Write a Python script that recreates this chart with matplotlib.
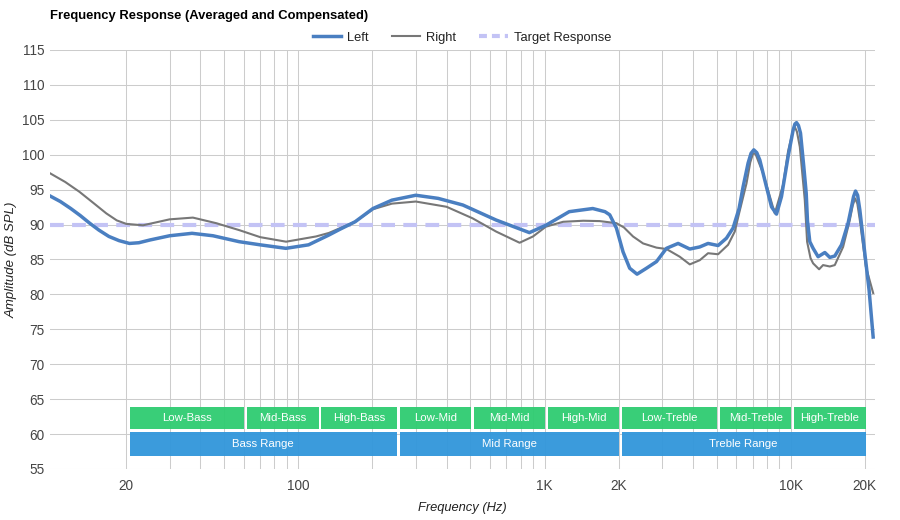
import matplotlib
matplotlib.use("Agg")
import matplotlib.pyplot as plt
from matplotlib.ticker import FixedLocator, NullFormatter
from matplotlib.lines import Line2D

plt.rcParams['font.family'] = ['Liberation Sans', 'DejaVu Sans']

# ---------------- data ----------------
left_freq = [9.8, 10.8, 11.9, 13, 14.2, 15.5, 17, 18.7, 20.6, 22.5, 25, 30, 37, 45, 57.5, 70, 89,
             110, 133, 147, 170, 201, 240, 300, 370, 466, 636, 868, 1013, 1260, 1570, 1760, 1840,
             1959, 2084, 2218, 2376, 2595, 2850, 3129, 3488, 3891, 4272, 4616, 5070, 5483, 5832,
             6170, 6406, 6713, 6900, 7080, 7280, 7490, 7972, 8355, 8757, 9172, 9756, 10224, 10400,
             10558, 10750, 10960, 11302, 11560, 11700, 11956, 12332, 12922, 13760, 14416, 15104,
             16084, 17104, 17664, 18000, 18336, 18700, 19088, 20000, 20820, 21624]
left_db = [94.1, 93.3, 92.3, 91.3, 90.2, 89.2, 88.3, 87.7, 87.3, 87.4, 87.8, 88.4, 88.75, 88.4,
           87.55, 87.1, 86.6, 87.1, 88.5, 89.3, 90.4, 92.3, 93.5, 94.2, 93.75, 92.8, 90.65, 88.85,
           89.9, 91.85, 92.3, 91.85, 91.4, 89.5, 86.1, 83.75, 82.9, 83.75, 84.7, 86.6, 87.3, 86.5,
           86.8, 87.3, 87.0, 88.05, 89.5, 92.3, 95.4, 98.8, 100.2, 100.7, 100.3, 99.25, 95.4, 92.55,
           91.5, 94.0, 99.7, 103.5, 104.4, 104.6, 104.2, 103.1, 98.3, 94.5, 90.5, 87.55, 86.6, 85.4,
           86.0, 85.3, 85.5, 87.1, 90.2, 92.55, 94.0, 94.8, 94.2, 92.1, 85.9, 80.6, 73.9]

right_freq = [9.8, 11.3, 12.9, 14.7, 16.6, 18.3, 20, 23.4, 30, 37.3, 46.4, 57.6, 70, 89.2, 118, 133,
              170, 201, 240, 300, 400, 510, 636, 792, 898, 1013, 1190, 1436, 1676, 1959, 2100,
              2288, 2514, 2850, 3129, 3542, 3891, 4272, 4616, 5070, 5566, 5926, 6170, 6614, 6850,
              7034, 7200, 7400, 7724, 8618, 9312, 9756, 10224, 10390, 10600, 10888, 11408, 11658,
              12036, 12332, 13042, 13538, 14416, 15104, 16326, 17380, 17850, 18266, 18650, 19088,
              20190, 21624]
right_db = [97.35, 96.1, 94.7, 93.1, 91.6, 90.6, 90.1, 89.9, 90.75, 91.0, 90.2, 89.2, 88.2, 87.55,
            88.3, 88.8, 90.4, 92.2, 93.0, 93.3, 92.55, 90.9, 89.0, 87.4, 88.3, 89.7, 90.4, 90.55,
            90.5, 90.2, 89.6, 88.3, 87.3, 86.7, 86.5, 85.4, 84.3, 84.9, 85.9, 85.75, 87.1, 89.0,
            91.6, 95.9, 98.9, 100.2, 100.1, 99.0, 97.35, 91.6, 95.7, 100.5, 103.5, 104.0, 103.3,
            101.15, 93.5, 87.55, 85.2, 84.45, 83.6, 84.2, 84.0, 84.2, 86.8, 90.65, 92.7, 93.75,
            93.0, 90.65, 84.0, 80.2]

target_freq = [9.8, 22000]
target_db = [90, 90]

band_names = ['Low-Bass', 'Mid-Bass', 'High-Bass', 'Low-Mid', 'Mid-Mid', 'High-Mid',
              'Low-Treble', 'Mid-Treble', 'High-Treble']
band_edges = [20, 60, 120, 250, 500, 1000, 2000, 5000, 10000, 20000]
range_names = ['Bass Range', 'Mid Range', 'Treble Range']
range_edges = [20, 250, 2000, 20000]

x_tick_vals = [20, 100, 1000, 2000, 10000, 20000]
x_tick_labels = ['20', '100', '1K', '2K', '10K', '20K']
y_ticks = list(range(55, 116, 5))

# ---------------- figure ----------------
fig = plt.figure(figsize=(9, 5.2), dpi=100)
ax = fig.add_axes([50/900, 51/520, 825/900, 419/520])
ax.set_xscale('log')
ax.set_xlim(9.8, 22000)
ax.set_ylim(55, 115)

grid_c = '#cccccc'
minor = [m * d for d in (10, 100, 1000, 10000) for m in range(1, 10)]
minor = [v for v in minor if 20 <= v <= 20000]
for v in minor:
    ax.axvline(v, color=grid_c, lw=0.75, zorder=0)
for v in y_ticks:
    ax.axhline(v, color=grid_c, lw=0.75, zorder=0)

ax.xaxis.set_major_locator(FixedLocator(x_tick_vals))
ax.set_xticklabels(x_tick_labels)
ax.xaxis.set_minor_locator(FixedLocator([]))
ax.xaxis.set_minor_formatter(NullFormatter())
ax.set_yticks(y_ticks)
ax.tick_params(axis='both', length=0, labelsize=9.8, colors='#444444')
ax.tick_params(axis='x', pad=7)
ax.tick_params(axis='y', pad=4)
for s in ax.spines.values():
    s.set_visible(False)

# bands
gap_lo = 10 ** (3.3 / 246.0)
gap_hi = 10 ** (0.7 / 246.0)
green = '#2ecc71'
blue = '#3498db'
for i, name in enumerate(band_names):
    lo = band_edges[i] * gap_lo
    hi = band_edges[i + 1] * gap_hi
    ax.bar(lo, 3.2, width=hi - lo, bottom=60.73, align='edge', color=green, alpha=0.95,
           lw=0, zorder=2)
    ax.text((lo * hi) ** 0.5, 62.33, name, ha='center', va='center', color='white',
            fontsize=8.2, zorder=3)
for i, name in enumerate(range_names):
    lo = range_edges[i] * gap_lo
    hi = range_edges[i + 1] * gap_hi
    ax.bar(lo, 3.4, width=hi - lo, bottom=56.9, align='edge', color=blue, alpha=0.97,
           lw=0, zorder=2)
    ax.text((lo * hi) ** 0.5, 58.6, name, ha='center', va='center', color='white',
            fontsize=8.2, zorder=3)

# curves
ax.plot(target_freq, target_db, color='#c3c3f5', lw=3.0, dashes=(3.3, 2.0), zorder=3,
        solid_capstyle='butt', dash_capstyle='butt')
ax.plot(right_freq, right_db, color='#777777', lw=1.5, zorder=4, solid_joinstyle='round')
ax.plot(left_freq, left_db, color='#4a7fc1', lw=2.5, zorder=5, solid_joinstyle='round')

# texts
fig.text(50/900, 1 - 15.5/520, 'Frequency Response (Averaged and Compensated)', ha='left',
         va='center', fontsize=9.4, fontweight='bold', color='#000000')
fig.text(462/900, 1 - 507.5/520, 'Frequency (Hz)', ha='center', va='center', fontsize=9.3,
         style='italic', color='#222222')
fig.text(12/900, 1 - 260/520, 'Amplitude (dB SPL)', ha='center', va='center', fontsize=9.5,
         style='italic', color='#222222', rotation=90)

handles = [Line2D([], [], color='#4a7fc1', lw=2.5),
           Line2D([], [], color='#777777', lw=1.5),
           Line2D([], [], color='#c3c3f5', lw=3.0, dashes=(1.9, 1.2))]
fig.legend(handles, ['Left', 'Right', 'Target Response'], loc='center',
           bbox_to_anchor=(462/900, 1 - 38/520), ncol=3, frameon=False, fontsize=9.3,
           handlelength=2.2, handletextpad=0.45, columnspacing=1.8, labelcolor='#222222')

fig.savefig('out.png', dpi=100, facecolor='white')
